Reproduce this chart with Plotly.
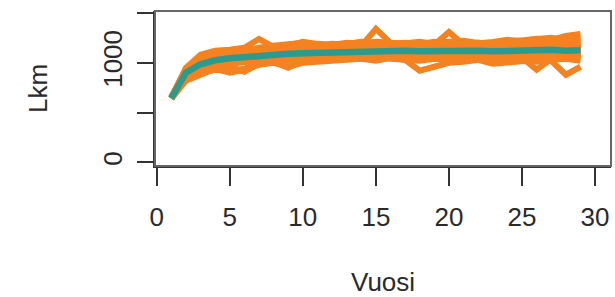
import plotly.graph_objects as go

years = list(range(1, 30))

run01 = [650, 950, 1080, 1120, 1130, 1150, 1240, 1160, 1170, 1210, 1190, 1180, 1200, 1190, 1210, 1200, 1190, 1180, 1200, 1210, 1220, 1200, 1190, 1210, 1230, 1240, 1250, 1230, 1260]
run02 = [640, 820, 880, 940, 900, 930, 980, 1000, 960, 1000, 1010, 1020, 1030, 1040, 1020, 1050, 1030, 920, 960, 1000, 1010, 1030, 990, 1000, 1010, 1030, 1020, 880, 960]
run03 = [655, 910, 1000, 1040, 1060, 1090, 1100, 1120, 1110, 1130, 1120, 1140, 1160, 1170, 1340, 1200, 1160, 1150, 1170, 1160, 1150, 1140, 1150, 1160, 1170, 1180, 1170, 1160, 1150]
run04 = [645, 880, 970, 1020, 1040, 1050, 1060, 1080, 1100, 1090, 1110, 1100, 1120, 1130, 1110, 1120, 1140, 1150, 1180, 1310, 1180, 1160, 1130, 1120, 1140, 1150, 1160, 1170, 1150]
run05 = [648, 890, 990, 1030, 1050, 1060, 1070, 1070, 1080, 1060, 1070, 1080, 1100, 1090, 1080, 1070, 1090, 1100, 1080, 1090, 1100, 1080, 1070, 1080, 1050, 930, 1040, 1060, 1080]
run06 = [642, 860, 950, 980, 960, 910, 990, 1010, 950, 1020, 1040, 1050, 1060, 1070, 1060, 1080, 1070, 1060, 1070, 1080, 1090, 1070, 1060, 1050, 1070, 1080, 1090, 1070, 1060]
run07 = [652, 930, 1030, 1070, 1090, 1100, 1110, 1130, 1150, 1140, 1130, 1150, 1140, 1160, 1150, 1170, 1160, 1140, 1150, 1170, 1160, 1150, 1160, 1170, 1180, 1190, 1200, 1190, 1180]
run08 = [638, 850, 940, 990, 1010, 1020, 1040, 1050, 1060, 1070, 1080, 1070, 1090, 1080, 1100, 1090, 1080, 1070, 1090, 1100, 1110, 1100, 1080, 1090, 1100, 1110, 1100, 1080, 1090]
run09 = [650, 920, 1010, 1050, 1070, 1080, 1090, 1100, 1120, 1110, 1100, 1120, 1130, 1120, 1140, 1130, 1150, 1130, 1120, 1140, 1160, 1150, 1140, 1130, 1150, 1160, 1150, 1140, 1160]
run10 = [644, 840, 900, 930, 920, 940, 1000, 1030, 1040, 1050, 1060, 1050, 1070, 1090, 1080, 1060, 1070, 1080, 1060, 1050, 1070, 1060, 1040, 1060, 1080, 1070, 1090, 1100, 1110]
run11 = [646, 900, 1020, 1060, 1090, 1110, 1130, 1140, 1180, 1160, 1170, 1190, 1180, 1170, 1160, 1180, 1190, 1210, 1190, 1200, 1180, 1190, 1210, 1230, 1220, 1240, 1230, 1270, 1290]
run12 = [641, 870, 960, 1010, 1040, 1070, 1060, 1080, 1070, 1090, 1100, 1110, 1100, 1110, 1090, 1100, 1110, 1090, 1100, 1120, 1110, 1090, 1000, 1040, 1070, 1090, 1110, 1120, 1100]
run13 = [653, 940, 1060, 1100, 1110, 1120, 1140, 1160, 1150, 1170, 1180, 1160, 1170, 1190, 1180, 1170, 1160, 1170, 1180, 1170, 1190, 1200, 1180, 1190, 1200, 1210, 1190, 1200, 1210]
run14 = [647, 890, 980, 1020, 1030, 1050, 1070, 1060, 1080, 1100, 1090, 1080, 1100, 1120, 1110, 1090, 1100, 1120, 1110, 1100, 1090, 1110, 1120, 1100, 1110, 1120, 1130, 1110, 1100]
run15 = [649, 905, 995, 1035, 1065, 1075, 1085, 1095, 1085, 1105, 1115, 1125, 1135, 1125, 1035, 1050, 1100, 1115, 1125, 1135, 1125, 1115, 1105, 1115, 1135, 1145, 1155, 1145, 1135]
run16 = [651, 925, 1045, 1085, 1100, 1130, 1150, 1170, 1190, 1200, 1180, 1170, 1190, 1210, 1200, 1190, 1200, 1190, 1210, 1190, 1180, 1200, 1180, 1200, 1210, 1190, 1210, 1220, 1200]
run17 = [643, 865, 925, 970, 990, 1000, 1020, 1040, 1020, 1030, 1050, 1060, 1040, 1050, 1060, 1040, 1030, 1020, 1040, 1030, 1050, 1040, 1020, 1030, 1020, 1010, 1030, 1040, 1020]

mean_line = [645, 900, 985, 1025, 1045, 1060, 1070, 1085, 1090, 1095, 1100, 1105, 1115, 1115, 1120, 1120, 1120, 1115, 1120, 1125, 1125, 1120, 1115, 1120, 1125, 1130, 1130, 1120, 1125]

x_ticks = [0, 5, 10, 15, 20, 25, 30]
y_ticks = [0, 500, 1000, 1500]
y_tick_labels = ["0", "", "1000", ""]

runs = [run01, run02, run03, run04, run05, run06, run07, run08, run09,
        run10, run11, run12, run13, run14, run15, run16, run17]

ORANGE = "#F58220"
TEAL = "#2B9B8F"
TXT = "#2a2a2a"
FONT = "Liberation Sans, Arial, sans-serif"

fig = go.Figure()
for r in runs:
    fig.add_trace(go.Scatter(x=years, y=r, mode="lines",
                             line=dict(color=ORANGE, width=6),
                             showlegend=False, hoverinfo="skip"))
fig.add_trace(go.Scatter(x=years, y=mean_line, mode="lines",
                         line=dict(color=TEAL, width=6.5),
                         showlegend=False))

fig.update_layout(
    width=615, height=297,
    margin=dict(l=155, r=4, t=11, b=131, autoexpand=False),
    paper_bgcolor="white", plot_bgcolor="white",
    font=dict(family=FONT, size=26, color=TXT),
    showlegend=False,
)
fig.update_xaxes(
    range=[-0.116, 31.09], tickvals=x_ticks, automargin=False,
    showgrid=False, zeroline=False,
    showline=True, linecolor="#333", linewidth=1.5,
    ticks="outside", ticklen=18, tickwidth=1.5, tickcolor="#333",
    tickfont=dict(size=26, color=TXT, family=FONT),
    ticklabelstandoff=9,
)
fig.update_yaxes(
    range=[-37, 1520], tickvals=y_ticks, ticktext=y_tick_labels, automargin=False,
    showgrid=False, zeroline=False,
    showline=True, linecolor="#333", linewidth=1.5,
    ticks="outside", ticklen=16, tickwidth=1.5, tickcolor="#333",
    tickangle=-90,
    tickfont=dict(size=26, color=TXT, family=FONT),
    ticklabelstandoff=5,
)
fig.add_shape(type="rect", xref="paper", yref="paper", x0=0, x1=1, y0=0, y1=1,
              line=dict(color="#666", width=2), layer="above")
fig.add_annotation(text="Vuosi", xref="paper", yref="paper", x=0.5, y=-0.748,
                   xanchor="center", yanchor="middle", showarrow=False,
                   font=dict(size=26, color=TXT, family=FONT))
fig.add_annotation(text="Lkm", xref="paper", yref="paper", x=-0.2566, y=0.503,
                   xanchor="center", yanchor="middle", showarrow=False, textangle=-90,
                   font=dict(size=26, color=TXT, family=FONT))

fig.write_html(
    "out.html",
    config={"displayModeBar": False},
    post_script="document.body.style.margin='0';document.body.style.overflow='hidden';",
)
